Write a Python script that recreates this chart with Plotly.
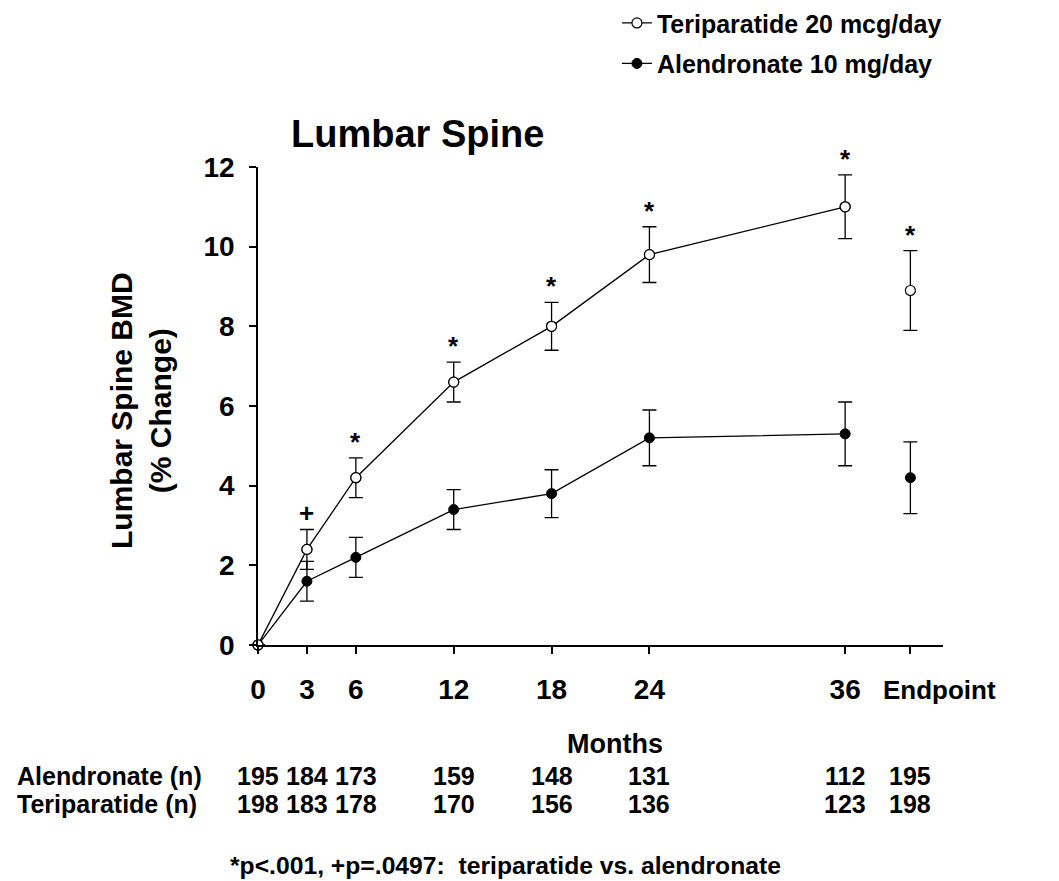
import plotly.graph_objects as go

# ---------------- data ----------------
months = [0, 3, 6, 12, 18, 24, 36]
endpoint_x = [40]
tick_vals = [0, 3, 6, 12, 18, 24, 36, 40]
tick_text = ["0", "3", "6", "12", "18", "24", "36", ""]
endpoint_label = "Endpoint"

teri = [0, 2.4, 4.2, 6.6, 8.0, 9.8, 11.0]
teri_err = [None, 0.5, 0.5, 0.5, 0.6, 0.7, 0.8]
teri_end = [8.9]
teri_end_err = [1.0]

alen = [0, 1.6, 2.2, 3.4, 3.8, 5.2, 5.3]
alen_err = [None, 0.5, 0.5, 0.5, 0.6, 0.7, 0.8]
alen_end = [4.2]
alen_end_err = [0.9]

sig = ["", "+", "*", "*", "*", "*", "*"]
sig_end = ["*"]

n_alen = [195, 184, 173, 159, 148, 131, 112, 195]
n_teri = [198, 183, 178, 170, 156, 136, 123, 198]

FONT = "Arial, 'Liberation Sans', sans-serif"

fig = go.Figure()

def err(arr):
    return dict(type="data", array=arr, visible=True, color="black",
                thickness=1.3, width=7)

open_marker = dict(symbol="circle", size=10, color="white",
                   line=dict(color="black", width=1.2))
fill_marker = dict(symbol="circle", size=10, color="black",
                   line=dict(color="black", width=1))

fig.add_trace(go.Scatter(
    x=months, y=teri, error_y=err(teri_err), mode="lines+markers",
    line=dict(color="black", width=1.3), marker=open_marker,
    name="Teriparatide 20 mcg/day", legendgroup="t", cliponaxis=False))
fig.add_trace(go.Scatter(
    x=endpoint_x, y=teri_end, error_y=err(teri_end_err), mode="markers",
    marker=open_marker, showlegend=False, legendgroup="t", cliponaxis=False))
fig.add_trace(go.Scatter(
    x=months, y=alen, error_y=err(alen_err), mode="lines+markers",
    line=dict(color="black", width=1.3), marker=fill_marker,
    name="Alendronate 10 mg/day", legendgroup="a", cliponaxis=False))
fig.add_trace(go.Scatter(
    x=endpoint_x, y=alen_end, error_y=err(alen_end_err), mode="markers",
    marker=fill_marker, showlegend=False, legendgroup="a", cliponaxis=False))
# redraw open markers on top so lines don't cross them
fig.add_trace(go.Scatter(
    x=months, y=teri, mode="markers", marker=open_marker,
    showlegend=False, hoverinfo="skip", cliponaxis=False))

annotations = []
# significance marks
for xv, yv, e, s in zip(months + endpoint_x, teri + teri_end,
                        teri_err + teri_end_err, sig + sig_end):
    if s:
        annotations.append(dict(
            x=xv, y=yv + e, xref="x", yref="y", text="<b>%s</b>" % s,
            showarrow=False, yanchor="bottom", xanchor="center",
            yshift=-1, font=dict(family=FONT, size=26, color="black")))

# endpoint tick label (offset to the right of its tick, as in the original)
annotations.append(dict(
    x=endpoint_x[0], y=-0.094, xref="x", yref="paper",
    text="<b>%s</b>" % endpoint_label, xshift=29,
    showarrow=False, xanchor="center", yanchor="middle",
    font=dict(family=FONT, size=26, color="black")))

# title
annotations.append(dict(
    x=0.045, y=1.069, xref="paper", yref="paper", text="<b>Lumbar Spine</b>",
    showarrow=False, xanchor="left", yanchor="middle",
    font=dict(family=FONT, size=38, color="black")))
# y-axis title
annotations.append(dict(
    x=-0.1708, y=0.4895, xref="paper", yref="paper",
    text="<b>Lumbar Spine BMD<br>(% Change)</b>", textangle=-90,
    showarrow=False, xanchor="center", yanchor="middle",
    font=dict(family=FONT, size=30, color="black")))
# x-axis title
annotations.append(dict(
    x=0.521, y=-0.207, xref="paper", yref="paper", text="<b>Months</b>",
    showarrow=False, xanchor="center", yanchor="middle",
    font=dict(family=FONT, size=27, color="black")))
# n table
for label, vals, yp in [("Alendronate (n)", n_alen, -0.274),
                        ("Teriparatide (n)", n_teri, -0.3326)]:
    annotations.append(dict(
        x=-0.3547, y=yp, xref="paper", yref="paper", text="<b>%s</b>" % label,
        showarrow=False, xanchor="left", yanchor="middle",
        font=dict(family=FONT, size=25, color="black")))
    for xv, v in zip(tick_vals, vals):
        annotations.append(dict(
            x=xv, y=yp, xref="x", yref="paper", text="<b>%d</b>" % v,
            showarrow=False, xanchor="center", yanchor="middle",
            font=dict(family=FONT, size=25, color="black")))
# footnote
annotations.append(dict(
    x=0.3606, y=-0.462, xref="paper", yref="paper",
    text="<b>*p&lt;.001, +p=.0497:\u00a0 teriparatide vs. alendronate</b>",
    showarrow=False, xanchor="center", yanchor="middle",
    font=dict(family=FONT, size=24.7, color="black")))

fig.update_layout(
    width=1059, height=881,
    margin=dict(l=250, r=124, t=159, b=244, autoexpand=False),
    paper_bgcolor="white", plot_bgcolor="white",
    font=dict(family=FONT, color="black"),
    showlegend=True,
    legend=dict(x=0.524, y=1.349, xanchor="left", yanchor="top",
                font=dict(family=FONT, size=25, color="black", weight="bold"),
                traceorder="grouped", tracegroupgap=5,
                bgcolor="rgba(0,0,0,0)"),
    annotations=annotations,
    xaxis=dict(range=[0, 42], tickvals=tick_vals, ticktext=tick_text,
               tickangle=0,
               showline=True, linecolor="black", linewidth=1.5,
               ticks="outside", ticklen=7, tickwidth=1.5, tickcolor="black",
               showgrid=False, zeroline=False, ticklabelstandoff=12,
               tickfont=dict(family=FONT, size=28, color="black", weight="bold")),
    yaxis=dict(range=[0, 12], tickvals=[0, 2, 4, 6, 8, 10, 12],
               showline=True, linecolor="black", linewidth=1.5,
               ticks="outside", ticklen=7, tickwidth=1.5, tickcolor="black",
               showgrid=False, zeroline=False, ticklabelstandoff=9,
               tickfont=dict(family=FONT, size=28, color="black", weight="bold")),
)

fig.write_html("out.html")
